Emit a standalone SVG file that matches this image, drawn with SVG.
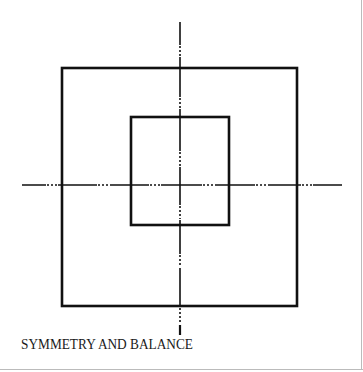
<svg xmlns="http://www.w3.org/2000/svg" width="363" height="372" viewBox="0 0 363 372">
<style>
.box{fill:none;stroke:#111;stroke-width:2.6}
.ax{fill:none;stroke:#111;stroke-width:1.6}
.dt{fill:none;stroke:#111;stroke-width:1.6;stroke-dasharray:2 2}
.lbl{font-family:"Liberation Serif",serif;font-size:14px;fill:#1a1a1a}
</style>
<rect width="363" height="372" fill="#fff"/>
<g id="outer-square"><rect class="box" x="62" y="68" width="235" height="238"/></g>
<g id="inner-square"><rect class="box" x="131" y="117" width="98" height="108"/></g>
<g id="axes">
<path class="ax" d="M22 185H46M58 185H97M110 185H149M161 185H202M215 185H255M268 185H301M313 185H342"/>
<path class="dt" d="M47 185H57M98 185H109M150 185H160M203 185H214M256 185H267M302 185H312"/>
<path class="ax" d="M180 22V45M180 57V97M180 109V151M180 167V205M180 220V254M180 268V307"/>
<path class="ax" style="stroke-width:2.2" d="M180 325V335"/>
<path class="dt" d="M180 46V56M180 98V108M180 152V166M180 206V219M180 255V267M180 308V324"/>
</g>
<g id="caption"><text class="lbl" x="21" y="349" textLength="172" lengthAdjust="spacingAndGlyphs">SYMMETRY AND BALANCE</text></g>
<g id="frame">
<path d="M0 369.5H363M361.5 0V369" fill="none" stroke="#bbb" stroke-width="1"/>
</g>
</svg>
